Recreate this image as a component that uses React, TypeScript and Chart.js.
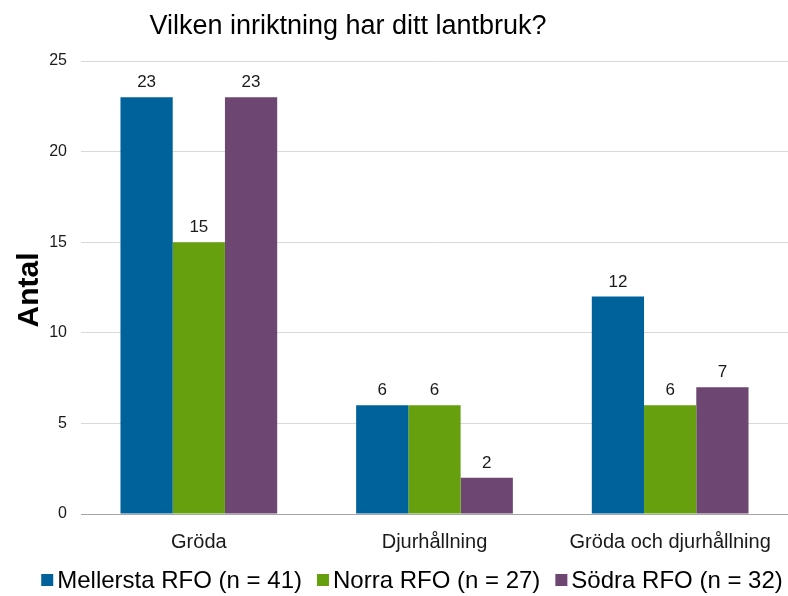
import React, { useEffect, useRef } from "react";
import { Chart, registerables } from "chart.js";

Chart.register(...registerables);

const categories = ["Gröda", "Djurhållning", "Gröda och djurhållning"];
const mellersta = [23, 6, 12];
const norra = [15, 6, 6];
const sodra = [23, 2, 7];
const seriesNames = ["Mellersta RFO (n = 41)", "Norra RFO (n = 27)", "Södra RFO (n = 32)"];
const colors = ["#00629B", "#66A00F", "#6D4671"];
const titleText = "Vilken inriktning har ditt lantbruk?";
const yTitle = "Antal";

const FONT = "'Liberation Sans', Arial, sans-serif";

const labelsPlugin = {
  id: "customText",
  afterDatasetsDraw(chart: any) {
    const ctx = chart.ctx;
    ctx.save();
    ctx.font = `17px ${FONT}`;
    ctx.fillStyle = "#1a1a1a";
    ctx.textAlign = "center";
    ctx.textBaseline = "bottom";
    chart.data.datasets.forEach((ds: any, i: number) => {
      const meta = chart.getDatasetMeta(i);
      meta.data.forEach((el: any, j: number) => {
        ctx.fillText(String(ds.data[j]), el.x, el.y - 6);
      });
    });
    ctx.restore();
  },
  afterDraw(chart: any) {
    const ctx = chart.ctx;
    ctx.save();
    ctx.font = `27px ${FONT}`;
    ctx.fillStyle = "#000";
    ctx.textAlign = "center";
    ctx.textBaseline = "middle";
    ctx.fillText(titleText, 348, 27);
    ctx.save();
    ctx.translate(30, 290);
    ctx.rotate(-Math.PI / 2);
    ctx.font = `bold 30px ${FONT}`;
    ctx.fillText(yTitle, 0, 0);
    ctx.restore();

    // legend
    ctx.font = `24px ${FONT}`;
    ctx.textAlign = "left";
    const box = 12, gapBox = 4, gapItem = 15;
    const items = chart.data.datasets.map((ds: any) => ({
      text: ds.label,
      color: ds.backgroundColor,
      w: ctx.measureText(ds.label).width,
    }));
    const total = items.reduce((s: number, it: any) => s + box + gapBox + it.w, 0) + gapItem * (items.length - 1);
    let x = 412 - total / 2;
    const y = 580;
    items.forEach((it: any) => {
      ctx.fillStyle = it.color;
      ctx.fillRect(x, y - 6, box, box);
      x += box + gapBox;
      ctx.fillStyle = "#000";
      ctx.fillText(it.text, x, y + 1);
      x += it.w + gapItem;
    });
    ctx.restore();
  },
};

export default function App() {
  const ref = useRef<HTMLCanvasElement>(null);
  useEffect(() => {
    document.body.style.margin = "0";
    const chart = new Chart(ref.current!, {
      type: "bar",
      data: {
        labels: categories,
        datasets: [mellersta, norra, sodra].map((d, i) => ({
          label: seriesNames[i],
          data: d,
          backgroundColor: colors[i],
          barPercentage: 1,
          categoryPercentage: 0.665,
        })),
      },
      options: {
        animation: false,
        responsive: false,
        layout: { padding: { top: 61, right: 0, left: 0, bottom: 41 } },
        plugins: {
          legend: { display: false },
          title: { display: false },
          tooltip: { enabled: false },
        },
        scales: {
          x: {
            grid: { display: false },
            border: { color: "#a6a6a6" },
            ticks: { font: { size: 20, family: FONT }, color: "#1a1a1a", padding: 8 },
            afterFit(scale: any) {
              scale.height = 41;
            },
          },
          y: {
            min: 0,
            max: 25,
            ticks: { stepSize: 5, font: { size: 16, family: FONT }, color: "#1a1a1a", padding: 14 },
            grid: { color: "#d9d9d9", drawTicks: false },
            border: { display: false },
            afterFit(scale: any) {
              scale.width = 81;
            },
          },
        },
      },
      plugins: [labelsPlugin],
    });
    return () => chart.destroy();
  }, []);
  return <canvas ref={ref} width={788} height={596} style={{ display: "block" }} />;
}
